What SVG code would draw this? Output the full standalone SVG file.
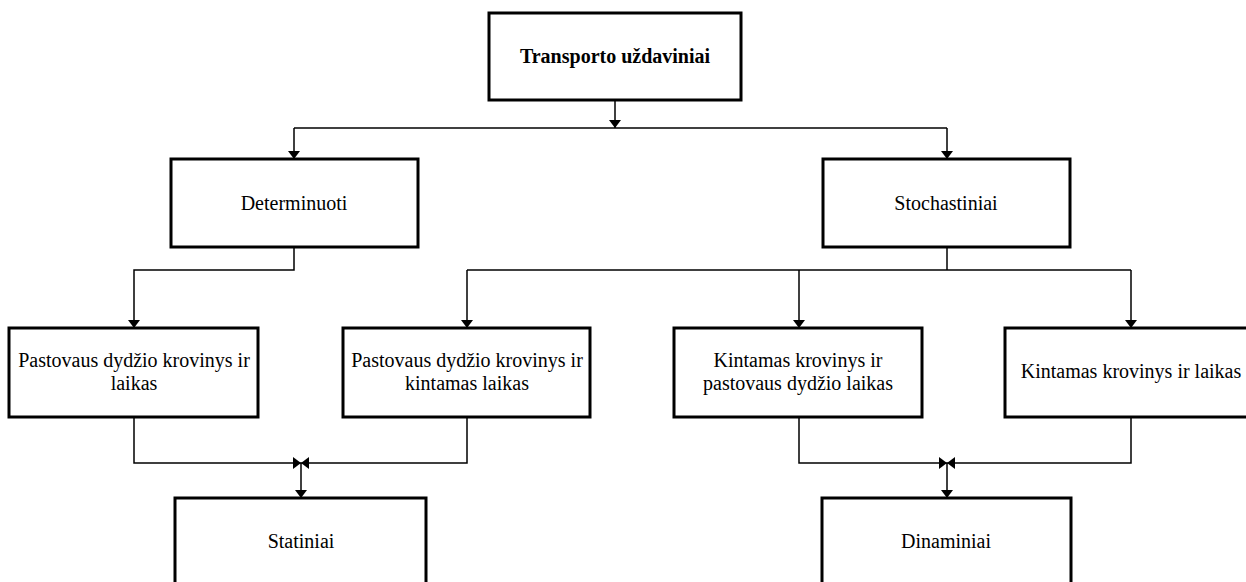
<svg xmlns="http://www.w3.org/2000/svg" width="1246" height="582" viewBox="0 0 1246 582">
  <style>
    .box { fill: #ffffff; stroke: #000000; stroke-width: 3; }
    .lbl { font-family: "Liberation Serif", "Times New Roman", serif; font-size: 20px; fill: #000000; text-anchor: middle; }
    .bold { font-weight: bold; }
    .wire { fill: none; stroke: #000000; stroke-width: 1.5; }
    .arr { marker-end: url(#head); }
  </style>
  <defs>
    <marker id="head" markerUnits="userSpaceOnUse" viewBox="0 0 8 12" refX="8" refY="6" markerWidth="8" markerHeight="12" orient="auto">
      <path d="M0,0 L8,6 L0,12 Z" fill="#000000"/>
    </marker>
  </defs>
  <rect width="1246" height="582" fill="#ffffff"/>

  <g id="connectors">
    <!-- root to first level -->
    <line class="wire arr" x1="615" y1="100" x2="615" y2="128"/>
    <polyline class="wire arr" points="294,128 294,159"/>
    <polyline class="wire" points="294,128 947,128"/>
    <polyline class="wire arr" points="947,128 947,159"/>
    <!-- Determinuoti branch -->
    <polyline class="wire arr" points="294,247 294,270 134,270 134,328"/>
    <!-- Stochastiniai branch -->
    <polyline class="wire" points="947,247 947,270"/>
    <polyline class="wire" points="467,270 1131,270"/>
    <polyline class="wire arr" points="467,270 467,328"/>
    <polyline class="wire arr" points="799,270 799,328"/>
    <polyline class="wire arr" points="1131,270 1131,328"/>
    <!-- merge into Statiniai -->
    <polyline class="wire arr" points="134,417 134,463 301,463"/>
    <polyline class="wire arr" points="467,417 467,463 301,463"/>
    <line class="wire arr" x1="301" y1="463" x2="301" y2="498"/>
    <!-- merge into Dinaminiai -->
    <polyline class="wire arr" points="799,417 799,463 947,463"/>
    <polyline class="wire arr" points="1131,417 1131,463 947,463"/>
    <line class="wire arr" x1="947" y1="463" x2="947" y2="498"/>
  </g>

  <g id="transporto-uzdaviniai">
    <rect class="box" x="489" y="13" width="252" height="87"/>
    <text class="lbl bold" x="615" y="63">Transporto uždaviniai</text>
  </g>
  <g id="determinuoti">
    <rect class="box" x="171" y="159" width="247" height="88"/>
    <text class="lbl" x="294" y="210">Determinuoti</text>
  </g>
  <g id="stochastiniai">
    <rect class="box" x="823" y="159" width="247" height="88"/>
    <text class="lbl" x="946" y="210">Stochastiniai</text>
  </g>
  <g id="pastovaus-krovinys-laikas">
    <rect class="box" x="9" y="328" width="249" height="89"/>
    <text class="lbl" x="134" y="367">Pastovaus dydžio krovinys ir</text>
    <text class="lbl" x="134" y="390">laikas</text>
  </g>
  <g id="pastovaus-krovinys-kintamas-laikas">
    <rect class="box" x="343" y="328" width="247" height="89"/>
    <text class="lbl" x="467" y="367">Pastovaus dydžio krovinys ir</text>
    <text class="lbl" x="467" y="390">kintamas laikas</text>
  </g>
  <g id="kintamas-krovinys-pastovus-laikas">
    <rect class="box" x="674" y="328" width="248" height="89"/>
    <text class="lbl" x="798" y="367">Kintamas krovinys ir</text>
    <text class="lbl" x="798" y="390">pastovaus dydžio laikas</text>
  </g>
  <g id="kintamas-krovinys-laikas">
    <rect class="box" x="1005" y="328" width="252" height="89"/>
    <text class="lbl" x="1131" y="378">Kintamas krovinys ir laikas</text>
  </g>
  <g id="statiniai">
    <rect class="box" x="175" y="498" width="251" height="100"/>
    <text class="lbl" x="301" y="548">Statiniai</text>
  </g>
  <g id="dinaminiai">
    <rect class="box" x="822" y="498" width="249" height="100"/>
    <text class="lbl" x="946" y="548">Dinaminiai</text>
  </g>
</svg>
